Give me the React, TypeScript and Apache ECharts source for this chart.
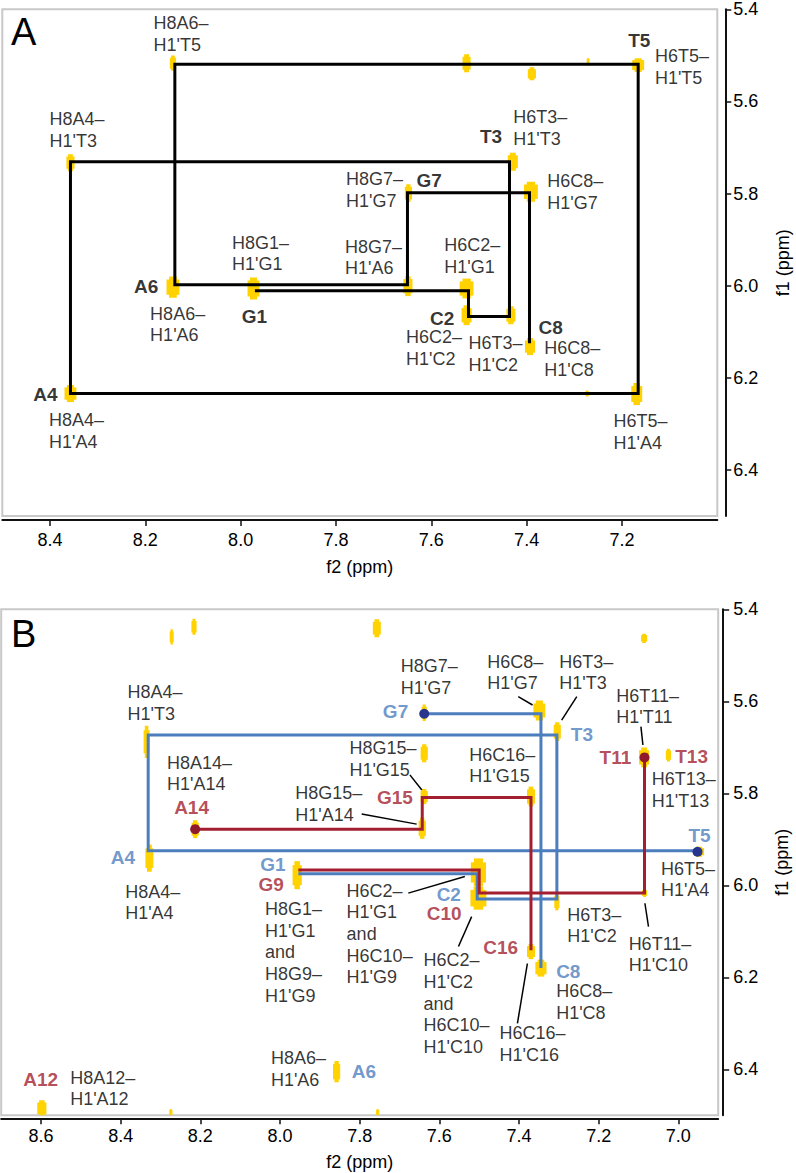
import React, { useEffect, useRef } from 'react';
import * as echarts from 'echarts';

const FONT = '"Liberation Sans", Arial, Helvetica, sans-serif';

// ---------- tick values ----------
const ticksXA = [8.4, 8.2, 8.0, 7.8, 7.6, 7.4, 7.2];
const ticksXB = [8.6, 8.4, 8.2, 8.0, 7.8, 7.6, 7.4, 7.2, 7.0];
const ticksY = [5.4, 5.6, 5.8, 6.0, 6.2, 6.4];

// ---------- Panel A ----------
// sequential walk (f2 ppm, f1 ppm)
const pathA: number[][] = [
  [7.970, 6.011], [7.522, 6.011], [7.522, 6.067], [7.436, 6.067], [7.436, 5.731],
  [8.357, 5.731], [8.357, 6.234], [7.166, 6.234], [7.166, 5.519], [8.138, 5.519],
  [8.138, 5.998], [7.650, 5.998], [7.650, 5.798], [7.394, 5.798], [7.394, 6.125],
];
// peaks: f2, f1, extent f2, extent f1 (ppm)
const peaksA: number[][] = [
  [8.142, 5.517, 0.013, 0.033],
  [7.526, 5.517, 0.017, 0.039],
  [7.389, 5.540, 0.017, 0.028],
  [7.271, 5.514, 0.006, 0.017],
  [7.166, 5.521, 0.025, 0.030],
  [7.429, 5.731, 0.021, 0.039],
  [7.648, 5.799, 0.015, 0.039],
  [7.391, 5.796, 0.029, 0.043],
  [7.649, 6.001, 0.019, 0.043],
  [7.526, 6.006, 0.029, 0.043],
  [7.526, 6.064, 0.021, 0.043],
  [7.433, 6.064, 0.019, 0.039],
  [7.393, 6.132, 0.021, 0.037],
  [7.273, 6.234, 0.008, 0.013],
  [7.169, 6.235, 0.023, 0.048],
  [8.142, 6.003, 0.027, 0.046],
  [7.973, 6.006, 0.025, 0.048],
  [8.357, 6.234, 0.025, 0.037],
  [8.357, 5.733, 0.017, 0.037],
];
const labelsA: [number, number, string][] = [
  [8.183, 5.453, "H8A6–\nH1'T5"],
  [8.401, 5.662, "H8A4–\nH1'T3"],
  [7.779, 5.792, "H8G7–\nH1'G7"],
  [8.018, 5.930, "H8G1–\nH1'G1"],
  [7.781, 5.939, "H8G7–\nH1'A6"],
  [8.190, 6.084, "H8A6–\nH1'A6"],
  [8.402, 6.315, "H8A4–\nH1'A4"],
  [7.131, 5.525, "H6T5–\nH1'T5"],
  [7.428, 5.657, "H6T3–\nH1'T3"],
  [7.357, 5.797, "H6C8–\nH1'G7"],
  [7.573, 5.936, "H6C2–\nH1'G1"],
  [7.653, 6.135, "H6C2–\nH1'C2"],
  [7.522, 6.148, "H6T3–\nH1'C2"],
  [7.363, 6.159, "H6C8–\nH1'C8"],
  [7.218, 6.318, "H6T5–\nH1'A4"],
];
const residuesA: [number, number, string][] = [
  [8.224, 6.002, 'A6'], [7.998, 6.067, 'G1'], [8.435, 6.236, 'A4'], [7.187, 5.468, 'T5'],
  [7.498, 5.677, 'T3'], [7.631, 5.771, 'G7'], [7.603, 6.071, 'C2'], [7.375, 6.090, 'C8'],
];

// ---------- Panel B ----------
const bluePath1: number[][] = [
  [7.954, 5.975], [7.505, 5.975], [7.505, 6.030], [7.305, 6.030], [7.305, 5.673],
  [8.331, 5.673], [8.331, 5.925], [6.952, 5.925],
];
const bluePath2: number[][] = [[7.638, 5.627], [7.345, 5.627], [7.345, 6.180]];
const redPath1: number[][] = [[8.213, 5.878], [7.643, 5.878], [7.643, 5.809], [7.370, 5.809], [7.370, 6.141]];
const redPath2: number[][] = [[7.954, 5.967], [7.500, 5.967], [7.500, 6.017], [7.085, 6.017], [7.085, 5.722]];
const blueEnds: number[][] = [[6.952, 5.927], [7.638, 5.627]];
const redEnds: number[][] = [[8.213, 5.878], [7.085, 5.722]];

const peaksB: number[][] = [
  [8.272, 5.460, 0.010, 0.033],
  [8.216, 5.438, 0.013, 0.035],
  [7.757, 5.441, 0.020, 0.039],
  [7.086, 5.463, 0.015, 0.020],
  [8.335, 5.688, 0.015, 0.070],
  [8.328, 5.941, 0.020, 0.059],
  [8.213, 5.878, 0.018, 0.039],
  [7.643, 5.876, 0.018, 0.046],
  [7.638, 5.807, 0.018, 0.033],
  [7.638, 5.713, 0.018, 0.039],
  [7.638, 5.625, 0.013, 0.036],
  [7.349, 5.620, 0.030, 0.043],
  [7.304, 5.666, 0.018, 0.041],
  [7.370, 5.807, 0.020, 0.043],
  [7.086, 5.722, 0.025, 0.043],
  [7.025, 5.717, 0.013, 0.028],
  [6.948, 5.927, 0.025, 0.022],
  [7.957, 5.978, 0.023, 0.061],
  [7.502, 5.972, 0.038, 0.061],
  [7.502, 6.028, 0.040, 0.050],
  [7.305, 6.036, 0.013, 0.037],
  [7.085, 6.017, 0.013, 0.017],
  [7.370, 6.144, 0.020, 0.033],
  [7.345, 6.180, 0.028, 0.037],
  [7.858, 6.405, 0.018, 0.046],
  [8.598, 6.485, 0.023, 0.035],
  [8.274, 6.494, 0.008, 0.015],
  [7.755, 6.494, 0.008, 0.015],
];
const labelsB: [number, number, string][] = [
  [8.383, 5.604, "H8A4–\nH1'T3"],
  [8.284, 5.757, "H8A14–\nH1'A14"],
  [7.962, 5.823, "H8G15–\nH1'A14"],
  [7.826, 5.726, "H8G15–\nH1'G15"],
  [7.697, 5.547, "H8G7–\nH1'G7"],
  [7.480, 5.537, "H6C8–\nH1'G7"],
  [7.299, 5.537, "H6T3–\nH1'T3"],
  [7.525, 5.740, "H6C16–\nH1'G15"],
  [7.156, 5.611, "H6T11–\nH1'T11"],
  [7.067, 5.793, "H6T13–\nH1'T13"],
  [7.044, 5.987, "H6T5–\nH1'A4"],
  [8.389, 6.037, "H8A4–\nH1'A4"],
  [8.038, 6.146, "H8G1–\nH1'G1\nand\nH8G9–\nH1'G9"],
  [7.833, 6.106, "H6C2–\nH1'G1\nand\nH6C10–\nH1'G9"],
  [7.640, 6.257, "H6C2–\nH1'C2\nand\nH6C10–\nH1'C10"],
  [7.449, 6.345, "H6C16–\nH1'C16"],
  [7.307, 6.254, "H6C8–\nH1'C8"],
  [7.279, 6.087, "H6T3–\nH1'C2"],
  [7.125, 6.150, "H6T11–\nH1'C10"],
  [8.527, 6.442, "H8A12–\nH1'A12"],
  [8.023, 6.399, "H8A6–\nH1'A6"],
];
const blueResidues: [number, number, string][] = [
  [7.742, 5.623, 'G7'], [7.270, 5.673, 'T3'], [6.975, 5.891, 'T5'], [8.425, 5.939, 'A4'],
  [8.050, 5.954, 'G1'], [7.607, 6.019, 'C2'], [7.307, 6.188, 'C8'], [7.820, 6.405, 'A6'],
];
const redResidues: [number, number, string][] = [
  [8.266, 5.830, 'A14'], [7.757, 5.809, 'G15'], [7.198, 5.722, 'T11'], [7.008, 5.719, 'T13'],
  [8.054, 5.999, 'G9'], [7.632, 6.062, 'C10'], [7.490, 6.135, 'C16'], [8.645, 6.423, 'A12'],
];
// leader lines: from (f2, f1) to (f2, f1)
const leadersB: number[][] = [
  [7.795, 5.845, 7.657, 5.867],
  [7.674, 5.760, 7.644, 5.793],
  [7.402, 5.590, 7.366, 5.608],
  [7.255, 5.590, 7.293, 5.641],
  [7.094, 5.655, 7.089, 5.695],
  [7.678, 6.017, 7.536, 5.981],
  [7.552, 6.133, 7.519, 6.068],
  [7.404, 6.300, 7.379, 6.170],
  [7.075, 6.090, 7.084, 6.039],
];

const YELLOW = '#FFD200';
const BLUE = '#4C7EBE';
const RED = '#A31F30';
const BLUE_DOT = '#28358C';
const RED_DOT = '#8E1A2B';
const INK = '#000000';

function peakSeries(data: number[][], idx: number) {
  return {
    type: 'custom',
    xAxisIndex: idx,
    yAxisIndex: idx,
    z: 1,
    clip: true,
    silent: true,
    data,
    renderItem: (params: any, api: any) => {
      const c = api.coord([api.value(0), api.value(1)]);
      const s = api.size([api.value(2), api.value(3)]);
      const w = s[0];
      const h = s[1];
      return {
        type: 'group',
        children: [
          { type: 'rect', shape: { x: c[0] - w / 2, y: c[1] - h * 0.36, width: w, height: h * 0.72 }, style: { fill: YELLOW } },
          { type: 'rect', shape: { x: c[0] - w * 0.3, y: c[1] - h / 2, width: w * 0.6, height: h }, style: { fill: YELLOW } },
        ],
      };
    },
  };
}

function labelSeries(data: [number, number, string][], idx: number, color: string, bold: boolean) {
  return {
    type: 'scatter',
    xAxisIndex: idx,
    yAxisIndex: idx,
    z: 6,
    silent: true,
    symbolSize: 0.1,
    itemStyle: { color: 'rgba(0,0,0,0)' },
    data: data.map((d) => ({ value: [d[0], d[1]], name: d[2] })),
    label: {
      show: true,
      position: 'right',
      distance: 0,
      formatter: (p: any) => p.name,
      color,
      fontFamily: FONT,
      fontSize: bold ? 19 : 18,
      fontWeight: bold ? 'bold' : 'normal',
      lineHeight: bold ? 16 : 21.6,
      align: 'left',
      verticalAlign: 'middle',
    },
  };
}

function pathSeries(data: number[][], idx: number, color: string, width: number) {
  return {
    type: 'line',
    xAxisIndex: idx,
    yAxisIndex: idx,
    z: 3,
    silent: true,
    data,
    symbol: 'none',
    showSymbol: false,
    lineStyle: { color, width, cap: 'butt', join: 'miter' },
  };
}

function dotSeries(data: number[][], color: string) {
  return {
    type: 'scatter',
    xAxisIndex: 1,
    yAxisIndex: 1,
    z: 4,
    silent: true,
    data,
    symbolSize: 10,
    itemStyle: { color, opacity: 1 },
  };
}

const fmt = (v: number) => v.toFixed(1);

function xAxisCfg(grid: number, min: number, max: number, ticks: number[], offset: number, margin: number, nameGap: number) {
  return {
    gridIndex: grid,
    type: 'value',
    min,
    max,
    inverse: true,
    position: 'bottom',
    offset,
    axisLine: { show: true, onZero: false, lineStyle: { color: '#111', width: 2 } },
    axisTick: { show: true, inside: false, length: 6, customValues: ticks, lineStyle: { color: '#111', width: 1.5 } },
    axisLabel: { customValues: ticks, formatter: fmt, margin, color: INK, fontSize: 18, fontFamily: FONT },
    splitLine: { show: false },
    name: 'f2 (ppm)',
    nameLocation: 'middle',
    nameGap,
    nameTextStyle: { color: INK, fontSize: 18, fontFamily: FONT },
  };
}

function yAxisCfg(grid: number, offset: number, margin: number, nameGap: number) {
  return {
    gridIndex: grid,
    type: 'value',
    min: 5.4,
    max: 6.5,
    inverse: true,
    position: 'right',
    offset,
    axisLine: { show: true, onZero: false, lineStyle: { color: '#111', width: 2 } },
    axisTick: { show: true, inside: false, length: 6, customValues: ticksY, lineStyle: { color: '#111', width: 1.5 } },
    axisLabel: { customValues: ticksY, formatter: fmt, margin, color: INK, fontSize: 18, fontFamily: FONT },
    splitLine: { show: false },
    name: 'f1 (ppm)',
    nameLocation: 'middle',
    nameRotate: 90,
    nameGap,
    nameTextStyle: { color: INK, fontSize: 18, fontFamily: FONT },
  };
}

export default function App() {
  const ref = useRef<HTMLDivElement>(null);
  useEffect(() => {
    if (!ref.current) return;
    const chart = echarts.init(ref.current, undefined, { renderer: 'svg' });
    chart.setOption({
      animation: false,
      backgroundColor: '#ffffff',
      textStyle: { fontFamily: FONT },
      grid: [
        { left: 2.3, top: 9.3, width: 715, height: 506.8, show: true, borderColor: '#c8c8c8', borderWidth: 2, backgroundColor: 'transparent', outerBoundsMode: 'none', containLabel: false },
        { left: 1.2, top: 609.3, width: 717, height: 506, show: true, borderColor: '#c8c8c8', borderWidth: 2, backgroundColor: 'transparent', outerBoundsMode: 'none', containLabel: false },
      ],
      xAxis: [
        xAxisCfg(0, 7.0, 8.5, ticksXA, 4, 11, 38),
        xAxisCfg(1, 6.9, 8.7, ticksXB, 3, 9, 35),
      ],
      yAxis: [yAxisCfg(0, 8, 8, 49), yAxisCfg(1, 5, 10, 50)],
      graphic: [
        { type: 'text', x: 11, y: 32, style: { text: 'A', fontSize: 38, fontFamily: FONT, fill: INK, verticalAlign: 'middle', align: 'left' } },
        { type: 'text', x: 11, y: 634, style: { text: 'B', fontSize: 38, fontFamily: FONT, fill: INK, verticalAlign: 'middle', align: 'left' } },
      ],
      series: [
        peakSeries(peaksA, 0),
        pathSeries(pathA, 0, '#000000', 3),
        labelSeries(labelsA, 0, INK, false),
        labelSeries(residuesA, 0, INK, true),

        peakSeries(peaksB, 1),
        pathSeries(bluePath1, 1, BLUE, 3),
        pathSeries(bluePath2, 1, BLUE, 3),
        pathSeries(redPath1, 1, RED, 3),
        pathSeries(redPath2, 1, RED, 3),
        {
          type: 'lines',
          coordinateSystem: 'cartesian2d',
          xAxisIndex: 1,
          yAxisIndex: 1,
          z: 3,
          silent: true,
          data: leadersB.map((l) => ({ coords: [[l[0], l[1]], [l[2], l[3]]] })),
          lineStyle: { color: INK, width: 1.5, opacity: 1 },
        },
        dotSeries(blueEnds, BLUE_DOT),
        dotSeries(redEnds, RED_DOT),
        labelSeries(labelsB, 1, INK, false),
        labelSeries(blueResidues, 1, BLUE, true),
        labelSeries(redResidues, 1, RED, true),
      ],
    });
    return () => chart.dispose();
  }, []);
  return <div ref={ref} style={{ position: 'absolute', left: 0, top: 0, width: 796, height: 1173 }} />;
}
